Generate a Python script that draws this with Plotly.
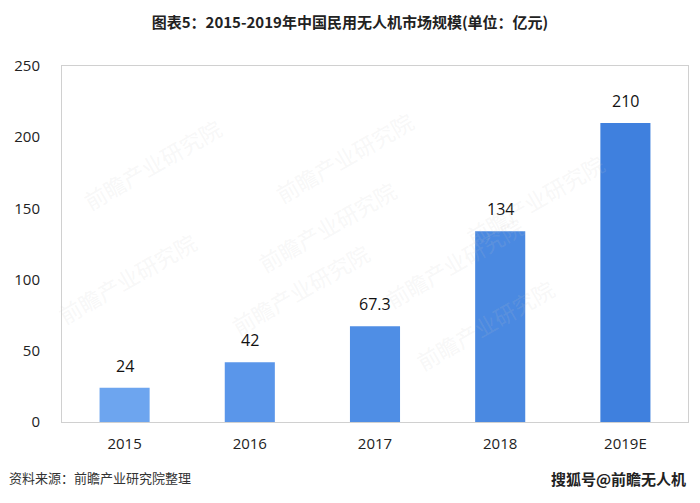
import plotly.graph_objects as go

categories = ["2015", "2016", "2017", "2018", "2019E"]
values = [24, 42, 67.3, 134, 210]
labels = ["24", "42", "67.3", "134", "210"]
colors = ["#6da5ef", "#5a96ea", "#4f8ee5", "#4a89e1", "#3f80de"]
y_ticks = [0, 50, 100, 150, 200, 250]

fig = go.Figure()
fig.add_trace(go.Bar(
    x=categories, y=values, width=0.4,
    marker=dict(color=colors, line=dict(width=0)),
    cliponaxis=False,
))
for i, (v, t) in enumerate(zip(values, labels)):
    fig.add_annotation(x=i, y=v, text=t, showarrow=False, yanchor="bottom", yshift=9,
                       font=dict(size=16, color="#111111", family="Open Sans, Noto Sans"))

# faint watermarks
wm = [(0.02, 0.88), (0.45, 0.90), (0.88, 0.78), (0.30, 0.55), (0.75, 0.45),
      (-0.02, 0.25), (0.38, 0.22), (0.80, 0.12)]
for (x, y) in wm:
    fig.add_annotation(xref="paper", yref="paper", x=x, y=y, text="前瞻产业研究院",
                       showarrow=False, textangle=-30,
                       font=dict(size=22, color="rgba(200,200,200,0.15)",
                                 family="Noto Sans CJK SC"))

fig.update_layout(
    width=700, height=503,
    margin=dict(l=62, r=12, t=66, b=81),
    paper_bgcolor="white", plot_bgcolor="white",
    showlegend=False,
    title=dict(text="<b>图表5：2015-2019年中国民用无人机市场规模(单位：亿元)</b>",
               x=0.5, xanchor="center", y=0.955, yanchor="middle",
               font=dict(size=15, color="#222222", family="Noto Sans CJK SC")),
    xaxis=dict(type="category", categoryorder="array", categoryarray=categories,
               showline=True, linecolor="#d0d0d0", linewidth=1, mirror=True,
               ticks="outside", ticklen=8, tickcolor="white",
               tickfont=dict(size=15, color="#222222", family="Open Sans, Noto Sans"),
               showgrid=False),
    yaxis=dict(range=[0, 250], tickvals=y_ticks, showline=True, linecolor="#d0d0d0",
               linewidth=1, mirror=True, showgrid=False, zeroline=False, ticks="",
               ticklabelstandoff=18,
               tickfont=dict(size=15, color="#222222", family="Open Sans, Noto Sans")),
    bargap=0.6,
)

fig.add_annotation(xref="paper", yref="paper", x=-0.088, y=-0.157, xanchor="left",
                   yanchor="middle", showarrow=False, text="资料来源：前瞻产业研究院整理",
                   font=dict(size=13, color="#333333", family="Noto Sans CJK SC"))
fig.add_annotation(xref="paper", yref="paper", x=1.0, y=-0.16, xanchor="right",
                   yanchor="middle", showarrow=False, text="<b>搜狐号@前瞻无人机</b>",
                   font=dict(size=15, color="#222222", family="Noto Sans CJK SC"))

fig.write_html("out.html")
